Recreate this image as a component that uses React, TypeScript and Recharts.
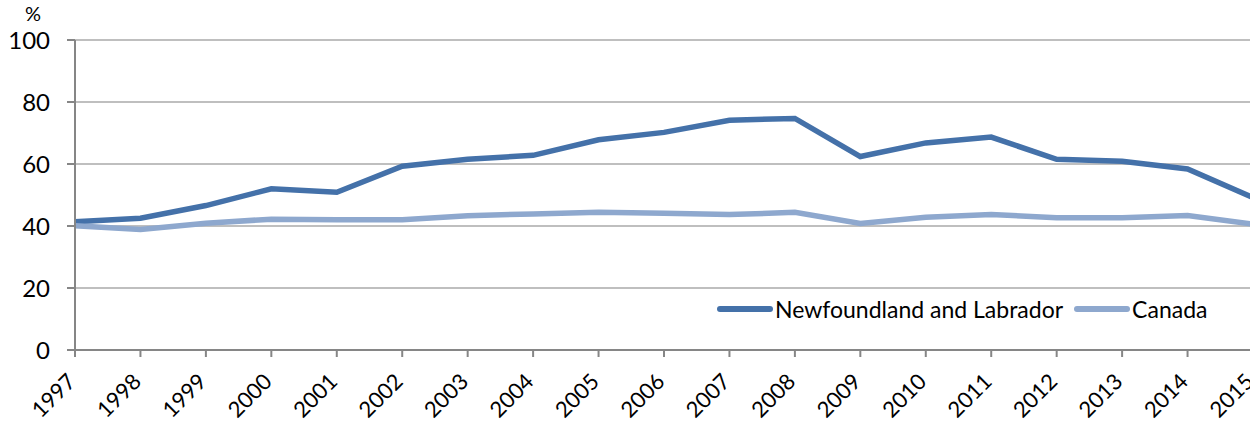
import React from 'react';
import { LineChart, Line, XAxis, YAxis, CartesianGrid } from 'recharts';

// Share (%) by year, Newfoundland and Labrador vs Canada
const years = ['1997', '1998', '1999', '2000', '2001', '2002', '2003', '2004', '2005', '2006', '2007', '2008', '2009', '2010', '2011', '2012', '2013', '2014', '2015'];
const nlValues = [41.4, 42.5, 46.6, 52.0, 50.9, 59.3, 61.5, 62.8, 67.8, 70.2, 74.1, 74.7, 62.4, 66.8, 68.7, 61.5, 60.9, 58.4, 49.2];
const canadaValues = [40.1, 38.9, 40.9, 42.2, 42.0, 42.0, 43.3, 43.9, 44.4, 44.1, 43.7, 44.4, 40.8, 42.8, 43.7, 42.7, 42.7, 43.4, 40.6];
const yTicks = [0, 20, 40, 60, 80, 100];

const NL_COLOR = '#4471a9';
const CANADA_COLOR = '#8ea8ce';
const FONT = 'Lato, "Open Sans", sans-serif';

const data = years.map((year, i) => ({
  year,
  nl: nlValues[i],
  canada: canadaValues[i],
}));

const series = [
  { key: 'nl', name: 'Newfoundland and Labrador', color: NL_COLOR },
  { key: 'canada', name: 'Canada', color: CANADA_COLOR },
];

const YearTick = (props: any) => {
  const { x, y, payload } = props;
  const ax = x + 2;
  const ay = y + 26;
  return (
    <text
      x={ax}
      y={ay}
      textAnchor="end"
      fontSize={22}
      fontFamily={FONT}
      fill="#000"
      transform={`rotate(-45, ${ax}, ${ay})`}
    >
      {payload.value}
    </text>
  );
};

// legend drawn as plain html over the plot, so it takes no space from the chart
const LegendBox = () => (
  <div
    style={{
      position: 'absolute',
      left: 717,
      top: 295,
      display: 'flex',
      alignItems: 'center',
      fontFamily: FONT,
      fontSize: 23,
      color: '#000',
      whiteSpace: 'nowrap',
    }}
  >
    {series.map((s, i) => (
      <div key={s.key} style={{ display: 'flex', alignItems: 'center', marginLeft: i === 0 ? 0 : 11 }}>
        <span style={{ display: 'inline-block', width: 56, height: 6, borderRadius: 3, background: s.color, marginRight: 2 }} />
        <span>{s.name}</span>
      </div>
    ))}
  </div>
);

export default function App() {
  return (
    <div style={{ position: 'fixed', left: 0, top: 0, width: 1250, height: 424, overflow: 'hidden', background: '#fff' }}>
      <div style={{ position: 'absolute', left: 25, top: 1, fontFamily: FONT, fontSize: 20, color: '#000' }}>%</div>
      <LineChart width={1270} height={424} data={data} margin={{ top: 40, right: 17, left: 0, bottom: 0 }}>
        <CartesianGrid vertical={false} stroke="#bfbfbf" strokeWidth={2} />
        <XAxis
          dataKey="year"
          height={74}
          interval={0}
          stroke="#868686"
          strokeWidth={2}
          tickSize={7}
          tickMargin={0}
          tick={<YearTick />}
        />
        <YAxis
          width={75}
          domain={[0, 100]}
          ticks={yTicks}
          stroke="#868686"
          strokeWidth={2}
          tickSize={8}
          tickMargin={17}
          tick={{ fontSize: 24, fontFamily: FONT, fill: '#000' }}
        />
        {series.map((s) => (
          <Line
            key={s.key}
            type="linear"
            dataKey={s.key}
            name={s.name}
            stroke={s.color}
            strokeWidth={5.5}
            dot={false}
            isAnimationActive={false}
          />
        ))}
      </LineChart>
      <LegendBox />
    </div>
  );
}
